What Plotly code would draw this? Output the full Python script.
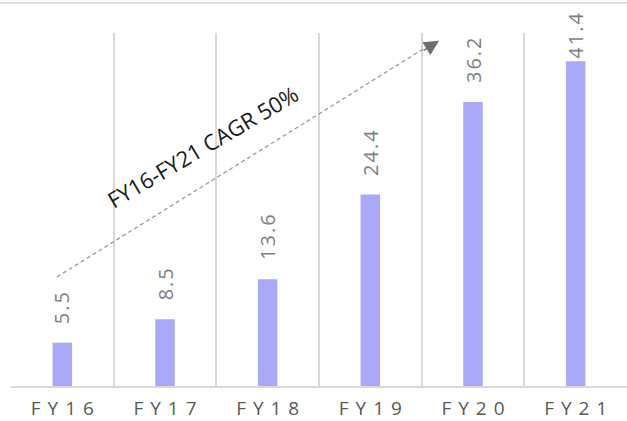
import plotly.graph_objects as go

# Fiscal years and values
years = ["FY16", "FY17", "FY18", "FY19", "FY20", "FY21"]
values = [5.5, 8.5, 13.6, 24.4, 36.2, 41.4]
cagr_text = "FY16-FY21 CAGR 50%"

THIN = "\u2009"
HAIR = "\u200a"


def spaced(s, sep):
    return sep.join(list(s))


W, H = 627, 421
M_L, M_R, M_T, M_B = 11, 0, 33, 35
Y_MAX = 45
plot_h = H - M_T - M_B
px_per_unit = plot_h / Y_MAX

BAR_COLOR = "#a9a9f8"
GRID_COLOR = "#d9d9d9"

fig = go.Figure()
fig.add_trace(go.Bar(
    x=years,
    y=values,
    width=0.19,
    marker=dict(color=BAR_COLOR, line=dict(width=0)),
    hoverinfo="skip",
))

# Value labels above each bar, rotated; kept inside the top of the chart
label_len = 50
label_gap = 17
top_limit = 11
annotations = []
for yr, v in zip(years, values):
    bar_top_px = M_T + (Y_MAX - v) * px_per_unit
    shift = min(label_gap, bar_top_px - top_limit - label_len)
    annotations.append(dict(
        x=yr, y=v, xref="x", yref="y",
        text=spaced(f"{v:.1f}", HAIR), textangle=-90,
        showarrow=False, xanchor="center", yanchor="bottom",
        yshift=shift,
        font=dict(family="Open Sans", size=20, color="#7f7f7f"),
    ))

# Growth arrow: dashed line with an arrowhead at the end
x0, y0 = -0.052, 13.9
x1, y1 = 3.52, 43.0
tip_x, tip_y = 3.67, 44.0
fig.add_shape(type="line", xref="x", yref="y",
              x0=x0, y0=y0, x1=x1, y1=y1,
              line=dict(color="#9a9a9a", width=1.3, dash="4px,3px"))
annotations.append(dict(
    x=tip_x, y=tip_y, xref="x", yref="y",
    ax=-17, ay=10.5, axref="pixel", ayref="pixel",
    showarrow=True, arrowhead=2, arrowsize=2.3, arrowwidth=1.3,
    arrowcolor="#6e6e6e", text="",
))
annotations.append(dict(
    x=1.37, y=30.6, xref="x", yref="y",
    text=cagr_text, textangle=-30.5, showarrow=False,
    font=dict(family="Open Sans", size=22, color="#1a1a1a"),
))

# Thin rule across the top of the figure
fig.add_shape(type="line", xref="paper", yref="paper",
              x0=-M_L / (W - M_L - M_R), x1=1.0,
              y0=1 + 30 / plot_h, y1=1 + 30 / plot_h,
              line=dict(color="#c0c0c0", width=1.2))

fig.update_layout(
    width=W, height=H,
    margin=dict(l=M_L, r=M_R, t=M_T, b=M_B, autoexpand=False),
    paper_bgcolor="white", plot_bgcolor="white",
    showlegend=False,
    annotations=annotations,
    xaxis=dict(
        type="category",
        tickson="boundaries",
        tickvals=years,
        ticktext=[spaced(y, THIN + HAIR + HAIR) for y in years],
        showgrid=True, gridcolor=GRID_COLOR, gridwidth=2,
        showline=True, linecolor=GRID_COLOR, linewidth=2,
        ticks="", ticklabelstandoff=4, automargin=False,
        tickfont=dict(family="Open Sans", size=19, color="#595959"),
        range=[-0.5, 5.5],
    ),
    yaxis=dict(
        range=[0, Y_MAX], automargin=False,
        showgrid=False, zeroline=False, showticklabels=False,
        showline=False,
    ),
)

fig.write_html("out.html")
